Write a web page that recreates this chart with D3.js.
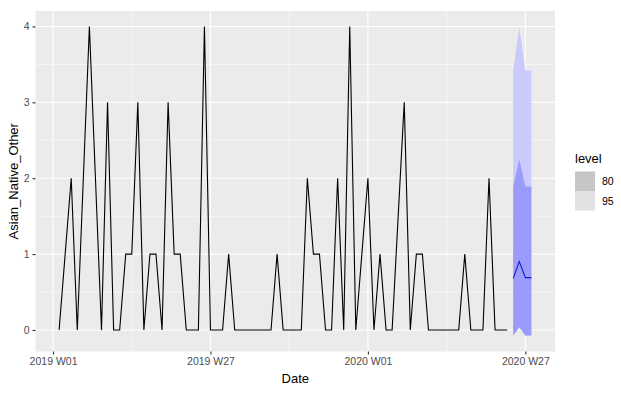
<!DOCTYPE html>
<html>
<head>
<meta charset="utf-8">
<script src="https://cdn.jsdelivr.net/npm/d3@7"></script>
<style>
  body { margin: 0; background: #fff; }
  text { font-family: "Liberation Sans", Arial, sans-serif; }
</style>
</head>
<body>
<svg id="chart" width="621" height="396"></svg>
<script>
// weeks counted from 2019 W01 (= 0)
var histWeeks = d3.range(1, 76);
var histValues = [0, 1, 2, 0, 2, 4, 2, 0, 3, 0,
                  0, 1, 1, 3, 0, 1, 1, 0, 3, 1,
                  1, 0, 0, 0, 4, 0, 0, 0, 1, 0,
                  0, 0, 0, 0, 0, 0, 1, 0, 0, 0,
                  0, 2, 1, 1, 0, 0, 2, 0, 4, 0,
                  1, 2, 0, 1, 0, 0, 1.5, 3, 0, 1,
                  1, 0, 0, 0, 0, 0, 0, 1, 0, 0,
                  0, 2, 0, 0, 0];

var fcWeeks = [76, 77, 78, 79];
var fcMean = [0.68, 0.90, 0.69, 0.69];
var fcLo80 = [-0.07, 0.04, -0.07, -0.07];
var fcHi80 = [1.89, 2.25, 1.89, 1.89];
var fcLo95 = [-0.08, 0.03, -0.08, -0.08];
var fcHi95 = [3.42, 3.99, 3.42, 3.42];

var xTickWeeks = [0, 26, 52, 78];
var xTickLabels = ["2019 W01", "2019 W27", "2020 W01", "2020 W27"];
var yTicks = [0, 1, 2, 3, 4];
var levels = ["80", "95"];
var levelKeyFill = ["#c6c6c6", "#e2e2e2"];

var svg = d3.select("#chart");
var panel = {left: 35.5, top: 11, right: 555, bottom: 351.5};

var hist = histWeeks.map(function(w, i) { return {w: w, v: histValues[i]}; });
var fc = fcWeeks.map(function(w, i) {
  return {w: w, m: fcMean[i], lo80: fcLo80[i], hi80: fcHi80[i], lo95: fcLo95[i], hi95: fcHi95[i]};
});

function expand(ext) {
  var d = (ext[1] - ext[0]) * 0.05;
  return [ext[0] - d, ext[1] + d];
}
var xExt = d3.extent(histWeeks.concat(fcWeeks));
var yExt = d3.extent(histValues.concat(fcLo95, fcHi95));

var x = d3.scaleLinear().domain(expand(xExt)).range([panel.left, panel.right]);
var y = d3.scaleLinear().domain(expand(yExt)).range([panel.bottom, panel.top]);

// panel background
svg.append("rect")
    .attr("x", panel.left).attr("y", panel.top)
    .attr("width", panel.right - panel.left)
    .attr("height", panel.bottom - panel.top)
    .attr("fill", "#ebebeb");

var grid = svg.append("g").attr("stroke", "#fff");
// minor grid
grid.selectAll("line.ymin")
  .data([0.5, 1.5, 2.5, 3.5])
  .enter().append("line")
    .attr("x1", panel.left).attr("x2", panel.right)
    .attr("y1", function(d) { return y(d); }).attr("y2", function(d) { return y(d); })
    .attr("stroke-width", 0.55);
grid.selectAll("line.xmin")
  .data([13, 39, 65])
  .enter().append("line")
    .attr("y1", panel.top).attr("y2", panel.bottom)
    .attr("x1", function(d) { return x(d); }).attr("x2", function(d) { return x(d); })
    .attr("stroke-width", 0.55);
// major grid
grid.selectAll("line.ymaj")
  .data(yTicks)
  .enter().append("line")
    .attr("x1", panel.left).attr("x2", panel.right)
    .attr("y1", function(d) { return y(d); }).attr("y2", function(d) { return y(d); })
    .attr("stroke-width", 1.1);
grid.selectAll("line.xmaj")
  .data(xTickWeeks)
  .enter().append("line")
    .attr("y1", panel.top).attr("y2", panel.bottom)
    .attr("x1", function(d) { return x(d); }).attr("x2", function(d) { return x(d); })
    .attr("stroke-width", 1.1);

// forecast intervals
var area95 = d3.area()
    .x(function(d) { return x(d.w); })
    .y0(function(d) { return y(d.lo95); })
    .y1(function(d) { return y(d.hi95); });
var area80 = d3.area()
    .x(function(d) { return x(d.w); })
    .y0(function(d) { return y(d.lo80); })
    .y1(function(d) { return y(d.hi80); });

svg.append("path").datum(fc).attr("d", area95).attr("fill", "#cacafc");
svg.append("path").datum(fc).attr("d", area80).attr("fill", "#9b9bfb");

// history line
var line = d3.line()
    .x(function(d) { return x(d.w); })
    .y(function(d) { return y(d.v); });
svg.append("path").datum(hist)
    .attr("d", line)
    .attr("fill", "none")
    .attr("stroke", "#000")
    .attr("stroke-width", 1.1);

// forecast mean
svg.append("path").datum(fc)
    .attr("d", d3.line().x(function(d) { return x(d.w); }).y(function(d) { return y(d.m); }))
    .attr("fill", "none")
    .attr("stroke", "#1a1ad0")
    .attr("stroke-width", 1.1);

// axes
var xAxis = d3.axisBottom(x)
    .tickValues(xTickWeeks)
    .tickFormat(function(d, i) { return xTickLabels[i]; })
    .tickSize(3).tickPadding(3);
var yAxis = d3.axisLeft(y)
    .tickValues(yTicks)
    .tickFormat(d3.format("d"))
    .tickSize(3).tickPadding(3);

var gx = svg.append("g").attr("transform", "translate(0," + panel.bottom + ")").call(xAxis);
var gy = svg.append("g").attr("transform", "translate(" + panel.left + ",0)").call(yAxis);
[gx, gy].forEach(function(g) {
  g.select(".domain").remove();
  g.selectAll(".tick line").attr("stroke", "#333").attr("stroke-width", 1.1);
  g.selectAll(".tick text").attr("fill", "#4d4d4d").style("font-size", "10.5px");
});

// axis titles
svg.append("text")
    .attr("x", (panel.left + panel.right) / 2)
    .attr("y", 383)
    .attr("text-anchor", "middle")
    .attr("fill", "#000")
    .style("font-size", "13px")
    .text("Date");
svg.append("text")
    .attr("transform", "translate(18," + ((panel.top + panel.bottom) / 2) + ") rotate(-90)")
    .attr("text-anchor", "middle")
    .attr("fill", "#000")
    .style("font-size", "13px")
    .text("Asian_Native_Other");

// legend
var legend = svg.append("g").attr("transform", "translate(575,0)");
legend.append("text")
    .attr("x", 0).attr("y", 163)
    .style("font-size", "13px")
    .text("level");
var key = legend.selectAll("g.key")
  .data(levels)
  .enter().append("g")
    .attr("transform", function(d, i) { return "translate(0," + (171.5 + i * 19.5) + ")"; });
key.append("rect")
    .attr("width", 20).attr("height", 19.5)
    .attr("fill", function(d, i) { return levelKeyFill[i]; });
key.append("text")
    .attr("x", 27).attr("y", 10)
    .attr("dy", "0.35em")
    .attr("fill", "#000")
    .style("font-size", "10.5px")
    .text(function(d) { return d; });
</script>
</body>
</html>
